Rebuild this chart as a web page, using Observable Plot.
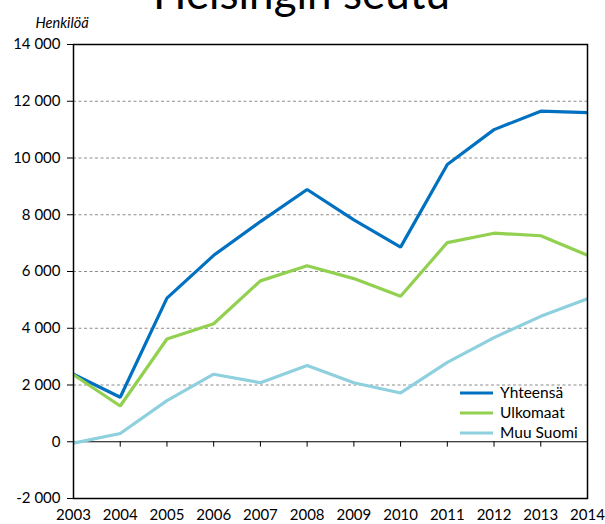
<!DOCTYPE html>
<html>
<head>
<meta charset="utf-8">
<script src="https://cdn.jsdelivr.net/npm/d3@7"></script>
<script src="https://cdn.jsdelivr.net/npm/@observablehq/plot@0.6"></script>
<style>
  html, body { margin: 0; padding: 0; background: white; }
  #chart { width: 605px; height: 524px; overflow: hidden; }
  #chart svg { overflow: hidden; }
</style>
</head>
<body>
<div id="chart"></div>
<script>
const title = "Helsingin seutu";
const unitLabel = "Henkilöä";
const years = [2003, 2004, 2005, 2006, 2007, 2008, 2009, 2010, 2011, 2012, 2013, 2014];
const seriesNames = ["Yhteensä", "Ulkomaat", "Muu Suomi"];
const seriesColors = ["#0070C0", "#92D050", "#8ED0DE"];
const yhteensa = [2380, 1570, 5060, 6570, 7760, 8890, 7820, 6860, 9770, 11000, 11650, 11600];
const ulkomaat = [2360, 1260, 3620, 4160, 5670, 6200, 5750, 5130, 7020, 7350, 7260, 6570];
const muuSuomi = [-50, 290, 1450, 2380, 2080, 2690, 2080, 1720, 2800, 3670, 4420, 5040];
const yTicks = [-2000, 0, 2000, 4000, 6000, 8000, 10000, 12000, 14000];
const gridValues = [2000, 4000, 6000, 8000, 10000, 12000];

const seriesValues = [yhteensa, ulkomaat, muuSuomi];
const data = seriesNames.flatMap((name, s) =>
  years.map((year, i) => ({ series: name, year, value: seriesValues[s][i] })));

const FONT = "Lato, 'Open Sans', sans-serif";
const fmt = (v) => d3.format(",")(v).replace(/,/g, "\u00a0").replace("\u2212", "-");

function legend(index, scales, values, dimensions) {
  const g = d3.create("svg:g");
  const right = dimensions.width - dimensions.marginRight;
  const bottom = dimensions.height - dimensions.marginBottom;
  seriesNames.forEach((name, i) => {
    const y = bottom - 105 + i * 20;
    g.append("line")
      .attr("x1", right - 127).attr("x2", right - 94)
      .attr("y1", y).attr("y2", y)
      .attr("stroke", seriesColors[i]).attr("stroke-width", 3.2);
    g.append("text")
      .attr("x", right - 87).attr("y", y).attr("dy", "0.35em")
      .attr("text-anchor", "start")
      .attr("font-family", FONT).attr("font-size", 15.5)
      .attr("fill", "black")
      .text(name);
  });
  return g.node();
}

const chart = Plot.plot({
  width: 605,
  height: 524,
  marginLeft: 73,
  marginRight: 18,
  marginTop: 44,
  marginBottom: 26,
  style: { fontFamily: FONT, fontSize: "15px", color: "black", background: "white" },
  x: { domain: [2003, 2014], ticks: years, tickFormat: "d" },
  y: { domain: [-2000, 14000], ticks: yTicks, tickFormat: fmt },
  color: { domain: seriesNames, range: seriesColors },
  marks: [
    Plot.ruleY(gridValues, { stroke: "#8c8c8c", strokeDasharray: "3,2.5", strokeWidth: 1 }),
    Plot.ruleX(years.slice(1, -1), { y1: 0, y2: -190, stroke: "black", strokeWidth: 1 }),
    Plot.ruleY([0], { stroke: "black", strokeWidth: 1.2 }),
    Plot.axisY({ ticks: yTicks, tickFormat: fmt, tickSize: 6, tickPadding: 7, label: null, fontSize: 15 }),
    Plot.axisX({ ticks: years, tickFormat: "d", tickSize: 0, tickPadding: 11, label: null, fontSize: 15 }),
    Plot.line(data, { x: "year", y: "value", z: "series", stroke: "series", strokeWidth: 3.2, strokeLinejoin: "miter", strokeLinecap: "butt" }),
    Plot.frame({ stroke: "black", strokeWidth: 1.5 }),
    Plot.text([title], { text: (d) => d, frameAnchor: "top", dx: -29, dy: -67, fontSize: 44, fill: "black" }),
    Plot.text([unitLabel], { text: (d) => d, frameAnchor: "top-left", dx: -38, dy: -27, textAnchor: "start", fontSize: 14.5, fontStyle: "italic", fill: "black" }),
    legend
  ]
});

document.getElementById("chart").appendChild(chart);
</script>
</body>
</html>
